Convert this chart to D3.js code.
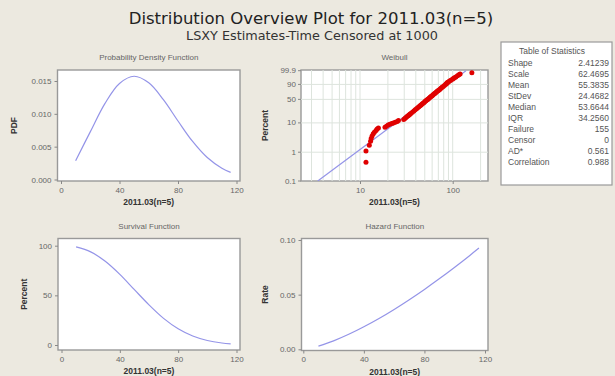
<!DOCTYPE html>
<html>
<head>
<meta charset="utf-8">
<script src="https://cdn.jsdelivr.net/npm/d3@7"></script>
<style>
  body { margin: 0; background: #ece9e0; }
  svg { display: block; font-family: "Liberation Sans", Arial, sans-serif; }
  .tick text { fill: #666; font-size: 8px; }
  .tick line { stroke: #888; }
  .big { font-family: "DejaVu Sans", sans-serif; }
</style>
</head>
<body>
<svg id="chart" width="615" height="376"></svg>
<script>
// time points
const tVals = [10, 20, 30, 40, 50, 60, 70, 80, 90, 100, 110, 116];
const pdfVals = [0.00287, 0.00725, 0.01156, 0.01463, 0.01572, 0.01472, 0.01216, 0.00891, 0.00579, 0.00334, 0.00171, 0.00108];
const survVals = [98.8, 93.8, 84.3, 71.1, 55.7, 40.4, 26.8, 16.3, 9.0, 4.5, 2.0, 1.2];
const hazVals = [0.0029, 0.0077, 0.0137, 0.0206, 0.0282, 0.0365, 0.0454, 0.0548, 0.0647, 0.0751, 0.0859, 0.0926];

// weibull probability plot: failure time, percent
const wbTimes = [11.6, 11.6, 12.6, 13.0, 13.2, 13.5, 13.9, 14.3, 14.9, 15.3, 15.8,
  18.6, 19.3, 20.1, 21.0, 22.0, 22.9, 24.0, 25.2, 26.0,
  29.6, 30.5, 31.3, 32.2, 33.0, 33.8, 34.5, 35.3, 36.7, 38.1, 39.4, 40.7, 41.9, 43.2, 44.4,
  45.6, 46.7, 47.9, 49.1, 50.2, 51.4, 52.5, 53.7, 54.8, 55.9, 57.1, 58.3, 59.5, 60.7, 61.9,
  63.2, 64.5, 65.8, 67.2, 68.6, 70.1, 71.7, 73.3, 75.1, 76.9, 79.0, 81.2, 83.7, 85.1, 86.6,
  87.5, 89.8, 92.4, 95.5, 99.3, 101.7, 104.5, 108.0, 112.6, 116.6, 120.2, 161];
const wbPercent = [0.45, 1.1, 1.75, 2.4, 3.0, 3.6, 4.3, 4.9, 5.6, 6.2, 6.8,
  7.2, 7.8, 8.5, 9.0, 9.5, 10.0, 10.6, 11.2, 11.9,
  13, 14, 15, 16, 17, 18, 19, 20, 22, 24, 26, 28, 30, 32, 34,
  36, 38, 40, 42, 44, 46, 48, 50, 52, 54, 56, 58, 60, 62, 64,
  66, 68, 70, 72, 74, 76, 78, 80, 82, 84, 86, 88, 90, 91, 92,
  93, 94, 95, 96, 97, 97.5, 98, 98.5, 99, 99.3, 99.5, 99.72];
// fitted line end points (time, percent)
const fitTimes = [3.5, 139];
const fitPercent = [0.1, 99.9];

const wbYTicks = [0.1, 1, 10, 50, 90, 99.9];
const wbXTicks = [10, 100];
const wbGridX = [3, 4, 5, 6, 7, 8, 9, 10, 20, 30, 40, 50, 60, 70, 80, 90, 100, 200];
const linXTicks = [0, 40, 80, 120];

const statNames = ["Shape", "Scale", "Mean", "StDev", "Median", "IQR", "Failure", "Censor", "AD*", "Correlation"];
const statValues = ["2.41239", "62.4695", "55.3835", "24.4682", "53.6644", "34.2560", "155", "0", "0.561", "0.988"];

const xTitle = "2011.03(n=5)";
const curveColor = "#9494e8";

const svg = d3.select("#chart");

svg.append("text").attr("class", "big").attr("x", 311).attr("y", 24).attr("text-anchor", "middle")
  .attr("font-size", 16.5).attr("fill", "#222").text("Distribution Overview Plot for 2011.03(n=5)");
svg.append("text").attr("class", "big").attr("x", 312).attr("y", 40).attr("text-anchor", "middle")
  .attr("font-size", 12.8).attr("fill", "#333").text("LSXY Estimates-Time Censored at 1000");

// draws frame, title, axis titles and returns a group
function panel(box, title, yTitle, yTitleX) {
  const g = svg.append("g");
  g.append("rect").attr("x", box.x0).attr("y", box.y0)
    .attr("width", box.x1 - box.x0).attr("height", box.y1 - box.y0)
    .attr("fill", "#fff").attr("stroke", "#999").attr("stroke-width", 1.4);
  g.append("text").attr("x", (box.x0 + box.x1) / 2).attr("y", box.y0 - 10)
    .attr("text-anchor", "middle").attr("font-size", 8).attr("fill", "#666").text(title);
  g.append("text").attr("x", (box.x0 + box.x1) / 2).attr("y", box.y1 + 24)
    .attr("text-anchor", "middle").attr("font-size", 8.5).attr("font-weight", "bold")
    .attr("fill", "#333").text(xTitle);
  g.append("text").attr("transform", `translate(${yTitleX},${(box.y0 + box.y1) / 2}) rotate(-90)`)
    .attr("text-anchor", "middle").attr("font-size", 8.5).attr("font-weight", "bold")
    .attr("fill", "#333").text(yTitle);
  return g;
}

function axes(g, box, x, y, xTicks, yTicks, xFmt, yFmt) {
  g.append("g").attr("transform", `translate(0,${box.y1})`)
    .call(d3.axisBottom(x).tickValues(xTicks).tickFormat(xFmt).tickSize(3).tickSizeOuter(0))
    .call(a => a.select(".domain").remove());
  g.append("g").attr("transform", `translate(${box.x0},0)`)
    .call(d3.axisLeft(y).tickValues(yTicks).tickFormat(yFmt).tickSize(3).tickSizeOuter(0))
    .call(a => a.select(".domain").remove());
}

function curvePanel(box, xr, yDom, yr, yTicks, yFmt, vals, title, yTitle, yTitleX) {
  const g = panel(box, title, yTitle, yTitleX);
  const x = d3.scaleLinear().domain([0, 120]).range(xr);
  const y = d3.scaleLinear().domain(yDom).range(yr);
  axes(g, box, x, y, linXTicks, yTicks, d3.format("d"), yFmt);
  const line = d3.line().x((d, i) => x(tVals[i])).y(d => y(d)).curve(d3.curveCatmullRom);
  g.append("path").datum(vals).attr("d", line)
    .attr("fill", "none").attr("stroke", curveColor).attr("stroke-width", 1.2);
}

// Probability density
curvePanel({x0: 57.5, x1: 240, y0: 70, y1: 181}, [61, 236.5], [0, 0.015], [179.5, 81],
  [0, 0.005, 0.01, 0.015], d3.format(".3f"), pdfVals, "Probability Density Function", "PDF", 17);

// Survival
curvePanel({x0: 58, x1: 240, y0: 238.5, y1: 350}, [61.5, 236.5], [0, 100], [345, 245.7],
  [0, 50, 100], d3.format("d"), survVals, "Survival Function", "Percent", 27);

// Hazard
curvePanel({x0: 301.5, x1: 488, y0: 238.5, y1: 350.5}, [303.3, 485], [0, 0.1], [349.3, 240],
  [0, 0.05, 0.1], d3.format(".2f"), hazVals, "Hazard Function", "Rate", 268);

// Weibull probability plot
{
  const box = {x0: 301, x1: 488, y0: 70, y1: 181};
  const g = panel(box, "Weibull", "Percent", 268);
  const wb = p => Math.log(-Math.log(1 - p / 100));
  const x = d3.scaleLog().domain([10, 100]).range([360, 452.7]);
  const yl = d3.scaleLinear().domain([wb(0.1), wb(99.9)]).range([181, 70.7]);
  const y = p => yl(wb(p));

  svg.append("clipPath").attr("id", "wbclip").append("rect")
    .attr("x", box.x0).attr("y", box.y0).attr("width", box.x1 - box.x0).attr("height", box.y1 - box.y0);

  const grid = g.append("g").attr("stroke", "#dde4dd").attr("stroke-width", 1);
  grid.selectAll(".gx").data(wbGridX).join("line")
    .attr("x1", d => x(d)).attr("x2", d => x(d)).attr("y1", box.y0).attr("y2", box.y1);
  grid.selectAll(".gy").data(wbYTicks.slice(1, -1)).join("line")
    .attr("y1", d => y(d)).attr("y2", d => y(d)).attr("x1", box.x0).attr("x2", box.x1);

  g.append("g").attr("transform", `translate(0,${box.y1})`)
    .call(d3.axisBottom(x).tickValues(wbXTicks).tickFormat(d3.format("d")).tickSize(3).tickSizeOuter(0))
    .call(a => a.select(".domain").remove());
  const yAx = g.append("g").attr("transform", `translate(${box.x0},0)`);
  const yt = yAx.selectAll("g").data(wbYTicks).join("g").attr("class", "tick")
    .attr("transform", d => `translate(0,${y(d)})`);
  yt.append("line").attr("x2", -3);
  yt.append("text").attr("x", -5).attr("dy", "0.32em").attr("text-anchor", "end").text(d => d);

  const body = g.append("g").attr("clip-path", "url(#wbclip)");
  body.append("line")
    .attr("x1", x(fitTimes[0])).attr("y1", y(fitPercent[0]))
    .attr("x2", x(fitTimes[1])).attr("y2", y(fitPercent[1]))
    .attr("stroke", curveColor).attr("stroke-width", 1.2);
  body.selectAll("circle").data(wbTimes).join("circle")
    .attr("cx", d => x(d)).attr("cy", (d, i) => y(wbPercent[i])).attr("r", 2.5)
    .attr("fill", "#e00000");
}

// Table of statistics
{
  const tg = svg.append("g");
  tg.append("rect").attr("x", 501).attr("y", 42).attr("width", 111).attr("height", 143)
    .attr("fill", "#fff").attr("stroke", "#9a9a9a").attr("stroke-width", 1.2);
  tg.append("text").attr("x", 552).attr("y", 54).attr("text-anchor", "middle")
    .attr("font-size", 8.5).attr("fill", "#555").text("Table of Statistics");
  const rows = tg.selectAll(".row").data(statNames).join("g")
    .attr("transform", (d, i) => `translate(0,${66 + i * 11})`);
  rows.append("text").attr("x", 508).attr("font-size", 8.5).attr("fill", "#555").text(d => d);
  rows.append("text").attr("x", 609).attr("text-anchor", "end").attr("font-size", 8.5)
    .attr("fill", "#555").text((d, i) => statValues[i]);
}
</script>
</body>
</html>
